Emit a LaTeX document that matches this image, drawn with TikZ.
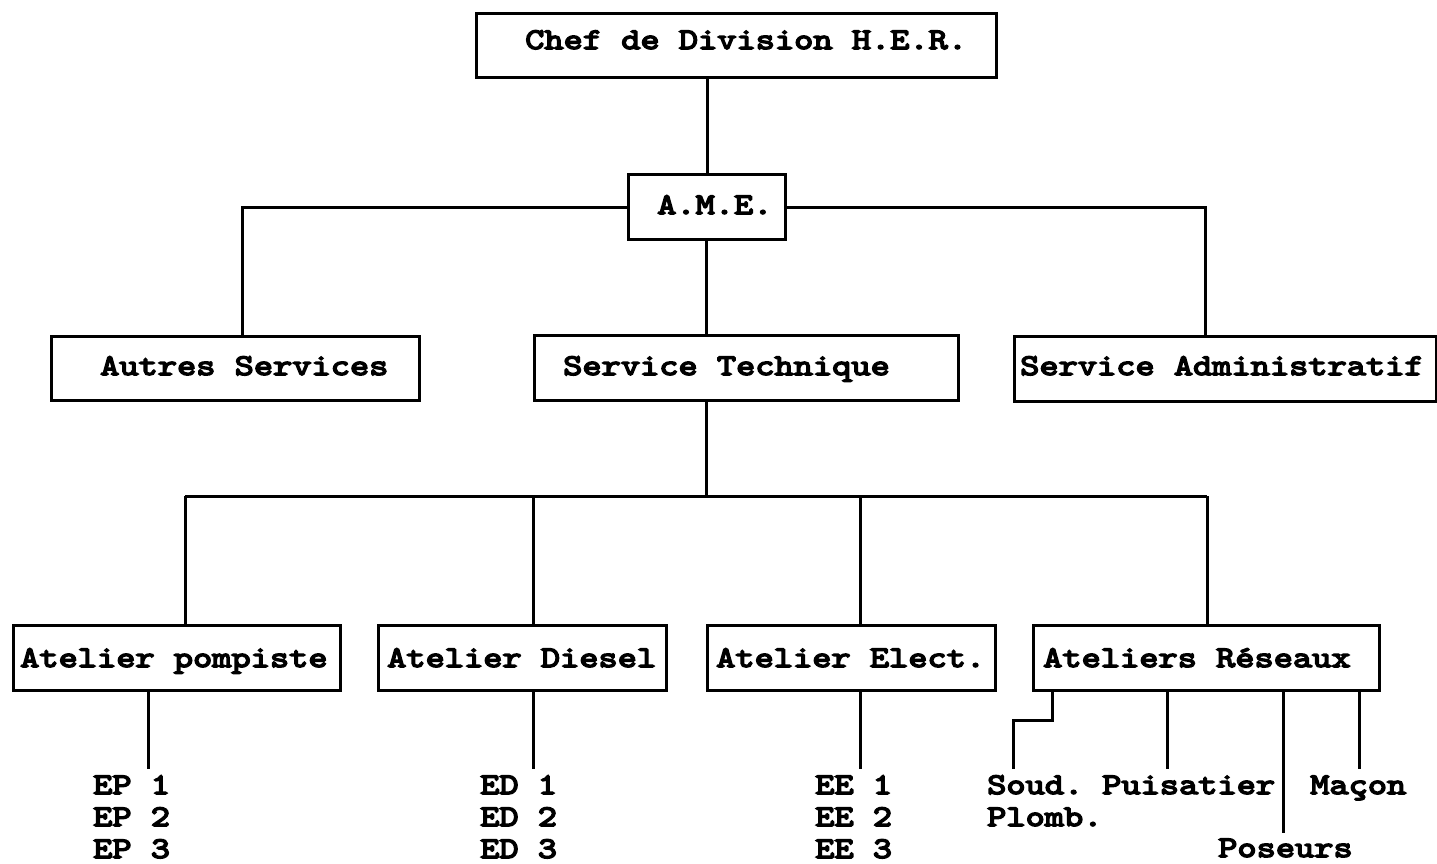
\documentclass[tikz,border=0pt]{standalone}
\usepackage{fontspec}
% heavy, slightly widened typewriter face
\newfontfamily\orgfont{lmmono10-regular}[Extension=.otf, FakeBold=5, FakeStretch=1.22]
\begin{document}
\begin{tikzpicture}[x=1pt,y=-1pt,
  link/.style={line width=3pt},
  box/.style={draw, line width=3pt, anchor=north west, inner sep=0pt},
  lbl/.style={anchor=base west, inner sep=0pt,
    font=\orgfont\fontsize{30}{36}\selectfont}]
\useasboundingbox (0,0) rectangle (1437,864);

% boxes
\node[box, minimum width=520pt, minimum height=64pt] (chef) at (475,12) {};
\node[box, minimum width=157pt, minimum height=65pt] (ame) at (627,173) {};
\node[box, minimum width=368pt, minimum height=64pt] (autres) at (50,335) {};
\node[box, minimum width=424pt, minimum height=65pt] (st) at (533,334) {};
\node[box, minimum width=422pt, minimum height=65pt] (sa) at (1013,335) {};
\node[box, minimum width=327pt, minimum height=65pt] (pomp) at (12,624) {};
\node[box, minimum width=288pt, minimum height=65pt] (diesel) at (377,624) {};
\node[box, minimum width=288pt, minimum height=65pt] (elect) at (706,624) {};
\node[box, minimum width=346pt, minimum height=65pt] (reseaux) at (1032,624) {};

% box titles
\node[lbl] (tchef) at (525,49) {Chef de Division H.E.R.};
\node[lbl] (tame) at (657,214) {A.M.E.};
\node[lbl] (tautres) at (100,375) {Autres Services};
\node[lbl] (tst) at (563,375) {Service Technique};
\node[lbl] (tsa) at (1020,375) {Service Administratif};
\node[lbl] (tpomp) at (20,667) {Atelier pompiste};
\node[lbl] (tdiesel) at (387,667) {Atelier Diesel};
\node[lbl] (telect) at (716,667) {Atelier Elect.};
\node[lbl] (treseaux) at (1043,667) {Ateliers Réseaux};

% team lists
\node[lbl] (ep1) at (93,794) {EP 1};
\node[lbl] (ep2) at (93,826) {EP 2};
\node[lbl] (ep3) at (93,858) {EP 3};
\node[lbl] (ed1) at (480,794) {ED 1};
\node[lbl] (ed2) at (480,826) {ED 2};
\node[lbl] (ed3) at (480,858) {ED 3};
\node[lbl] (ee1) at (815,794) {EE 1};
\node[lbl] (ee2) at (815,826) {EE 2};
\node[lbl] (ee3) at (815,858) {EE 3};
\node[lbl] (soud) at (987,794) {Soud.};
\node[lbl] (plomb) at (987,826) {Plomb.};
\node[lbl] (puis) at (1102,794) {Puisatier};
\node[lbl] (macon) at (1310,794) {Maçon};
\node[lbl] (pos) at (1218,857) {Poseurs};

% junction points
\coordinate (c1) at (707,0);
\coordinate (c2) at (706,0);
\coordinate (ja) at (242,207);
\coordinate (jb) at (1205,207);
\coordinate (jt) at (706,496);
\coordinate (h1) at (185,496);
\coordinate (h2) at (533,496);
\coordinate (h3) at (860,496);
\coordinate (h4) at (1207,496);
\coordinate (e1) at (148,769);
\coordinate (e2) at (533,769);
\coordinate (e3) at (860,769);
\coordinate (r1a) at (1052,720);
\coordinate (r1b) at (1013,769);
\coordinate (r2) at (1167,769);
\coordinate (r3) at (1283,833);
\coordinate (r4) at (1359,769);

% hierarchy links
\draw[link] (chef.south -| c1) -- (ame.north -| c1);
\draw[link] (ame.west |- ja) -- (ja) -- (ja |- autres.north);
\draw[link] (ame.east |- jb) -- (jb) -- (jb |- sa.north);
\draw[link] (ame.south -| c2) -- (st.north -| c2);
\draw[link] (st.south -| jt) -- (jt);
\draw[link] (h1) -- (h4);
\draw[link] (h1) -- (h1 |- pomp.north);
\draw[link] (h2) -- (h2 |- diesel.north);
\draw[link] (h3) -- (h3 |- elect.north);
\draw[link] (h4) -- (h4 |- reseaux.north);

% workshop teams
\draw[link] (pomp.south -| e1) -- (e1);
\draw[link] (diesel.south -| e2) -- (e2);
\draw[link] (elect.south -| e3) -- (e3);
\draw[link] (reseaux.south -| r1a) -- (r1a) -| (r1b);
\draw[link] (reseaux.south -| r2) -- (r2);
\draw[link] (reseaux.south -| r3) -- (r3);
\draw[link] (reseaux.south -| r4) -- (r4);
\end{tikzpicture}
\end{document}
